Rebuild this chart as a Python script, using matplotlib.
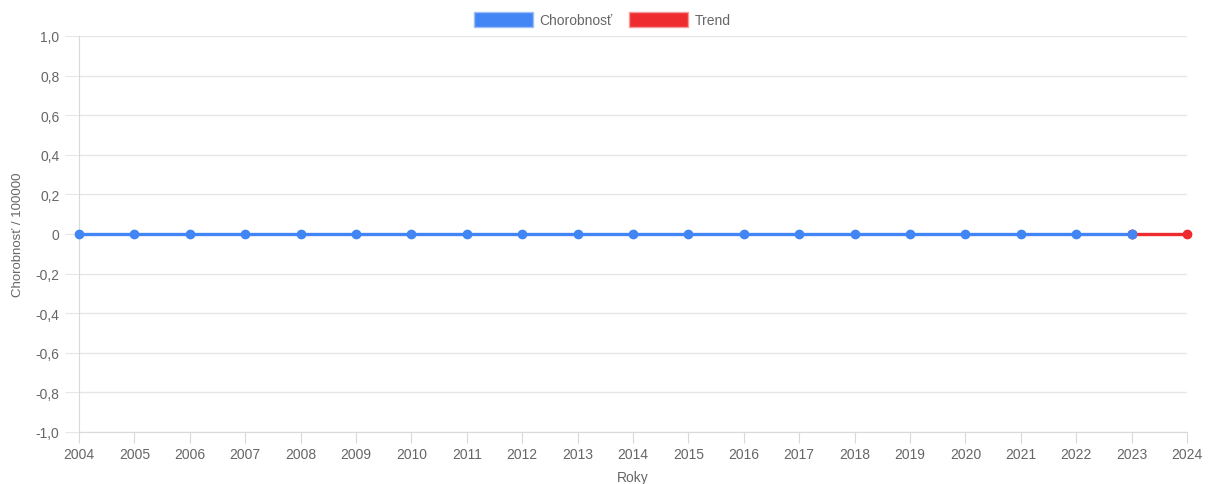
import matplotlib
matplotlib.use('Agg')
import matplotlib.pyplot as plt
from matplotlib.patches import Patch
from matplotlib.ticker import FuncFormatter

# data
roky = list(range(2004, 2024))
chorobnost = [0] * len(roky)
trend_roky = [2023, 2024]
trend = [0, 0]
y_ticks = [-1.0, -0.8, -0.6, -0.4, -0.2, 0, 0.2, 0.4, 0.6, 0.8, 1.0]

modra = '#4285f4'
cervena = '#ee2b2f'
siva = '#666666'
mriezka = '#e6e6e6'

plt.rcParams['font.family'] = ['Liberation Sans', 'DejaVu Sans']

fig = plt.figure(figsize=(12.12, 4.85), dpi=100)
ax = fig.add_axes([79 / 1212, 52 / 485, 1108 / 1212, 396 / 485])

ax.plot(roky, chorobnost, color=modra, lw=2.4, marker='o', ms=6, zorder=3, clip_on=False)
ax.plot(trend_roky, trend, color=cervena, lw=2.4, marker='o', ms=6, zorder=3, clip_on=False)
# bod 2023 znova modrou navrch
ax.plot(roky[-1:], chorobnost[-1:], color=modra, marker='o', ms=6, zorder=4, clip_on=False)

ax.set_xlim(2004, 2024)
ax.set_ylim(-1.0, 1.0)
ax.set_xticks(list(range(2004, 2025)))
ax.set_yticks(y_ticks)


def fmt(v, pos):
    if abs(v) < 1e-9:
        return '0'
    return ('%.1f' % v).replace('.', ',')


ax.yaxis.set_major_formatter(FuncFormatter(fmt))
ax.grid(axis='y', color=mriezka, lw=1)
ax.set_axisbelow(True)
for s in ['top', 'right']:
    ax.spines[s].set_visible(False)
for s in ['left', 'bottom']:
    ax.spines[s].set_color('#d9d9d9')
ax.tick_params(axis='x', length=8, color='#d9d9d9', labelcolor=siva, labelsize=10, pad=3)
ax.tick_params(axis='y', length=10, color=mriezka, labelcolor=siva, labelsize=10, pad=4)

ax.set_xlabel('Roky', color=siva, fontsize=10, labelpad=6)
ax.set_ylabel('Chorobnosť / 100000', color=siva, fontsize=9.5, labelpad=8,
              fontstretch='condensed')

handles = [Patch(facecolor=modra, edgecolor='#9dc0fa', lw=1),
           Patch(facecolor=cervena, edgecolor='#f59a9a', lw=1)]
fig.legend(handles, ['Chorobnosť', 'Trend'], loc='upper center', bbox_to_anchor=(0.497, 0.998),
           ncol=2, frameon=False, fontsize=10, labelcolor=siva,
           handlelength=4.2, handleheight=1.25, handletextpad=0.5, columnspacing=1.2)

fig.savefig('out.png', dpi=100)
